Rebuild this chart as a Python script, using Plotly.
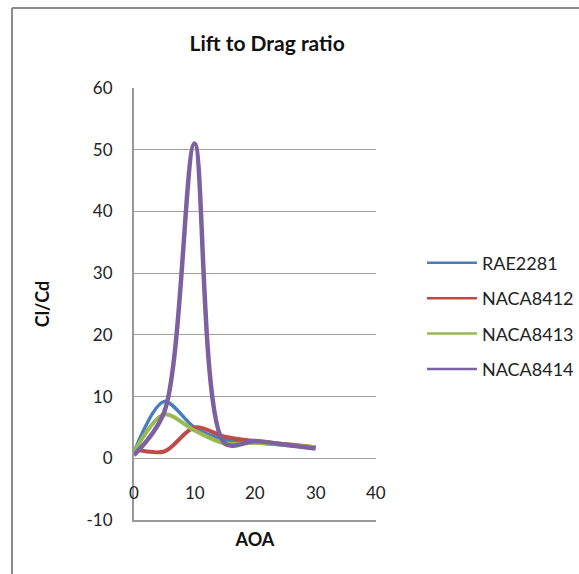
import plotly.graph_objects as go

aoa = [0, 5, 10, 15, 20, 25, 30]
rae2281 = [1.0, 9.2, 5.0, 3.0, 2.5, 2.1, 1.7]
naca8412 = [1.5, 1.1, 5.0, 3.5, 2.8, 2.3, 1.8]
naca8413 = [1.0, 7.1, 4.5, 2.4, 2.5, 2.2, 1.8]
naca8414 = [0.5, 7.5, 51.0, 2.4, 2.8, 2.2, 1.6]

series = [
    ("RAE2281", rae2281, "#4A7EBB", 3.5),
    ("NACA8412", naca8412, "#BE4B48", 4),
    ("NACA8413", naca8413, "#98B954", 4),
    ("NACA8414", naca8414, "#7D60A0", 4.5),
]

x_ticks = [0, 10, 20, 30, 40]
y_ticks = [-10, 0, 10, 20, 30, 40, 50, 60]

font_fam = "Lato, Open Sans, sans-serif"

fig = go.Figure()
for name, vals, color, w in series:
    fig.add_trace(go.Scatter(
        x=aoa, y=vals, name=name, mode="lines", showlegend=False,
        line=dict(color=color, width=w, shape="spline", smoothing=0.9),
    ))
# legend entries with thin sample lines (as in the reference)
for name, vals, color, w in series:
    fig.add_trace(go.Scatter(
        x=[None], y=[None], name=name, mode="lines", legendgroup=name,
        line=dict(color=color, width=2.5),
    ))

# x tick labels placed between y=0 and y=-10 (Excel style)
for t in x_ticks:
    fig.add_annotation(x=t, y=-5.6, xref="x", yref="y", text=str(t),
                       showarrow=False, font=dict(size=17, color="#222", family=font_fam))

fig.update_layout(
    width=579, height=574,
    margin=dict(l=134, r=203, t=88, b=54, autoexpand=False),
    paper_bgcolor="white", plot_bgcolor="white",
    title=dict(text="<b>Lift to Drag ratio</b>", x=0.55, xanchor="center",
               xref="paper", y=1 - 44/574, yanchor="middle",
               font=dict(size=21, color="#111", family=font_fam)),
    showlegend=True,
    legend=dict(x=1.19, xanchor="left", y=0.472, yanchor="middle",
                font=dict(size=18, color="#222", family=font_fam),
                itemwidth=50, tracegroupgap=9, bgcolor="rgba(0,0,0,0)"),
    xaxis=dict(range=[0, 40], tickvals=x_ticks, showticklabels=False,
               showgrid=False, zeroline=False, showline=True,
               linecolor="#999", linewidth=2,
               title=dict(text="<b>AOA</b>", standoff=12,
                          font=dict(size=18, color="#111", family=font_fam))),
    yaxis=dict(range=[-10, 60], tickvals=y_ticks,
               ticktext=[str(v) for v in y_ticks],
               showgrid=True, gridcolor="#A0A0A0", gridwidth=1,
               zeroline=False, showline=True, linecolor="#999", linewidth=2,
               ticks="", ticklabelstandoff=16,
               tickfont=dict(size=17, color="#222", family=font_fam),
               title=dict(text="<b>Cl/Cd</b>", standoff=32,
                          font=dict(size=18, color="#111", family=font_fam))),
    shapes=[
        dict(type="line", xref="paper", yref="paper",
             x0=-122/242, x1=445/242, y0=1 + 80/432, y1=1 + 80/432,
             line=dict(color="#8C8C8C", width=2)),
        dict(type="line", xref="paper", yref="paper",
             x0=-122/242, x1=-122/242, y0=1 + 80/432, y1=-54/432,
             line=dict(color="#8C8C8C", width=2)),
    ],
)

fig.write_html("out.html")
